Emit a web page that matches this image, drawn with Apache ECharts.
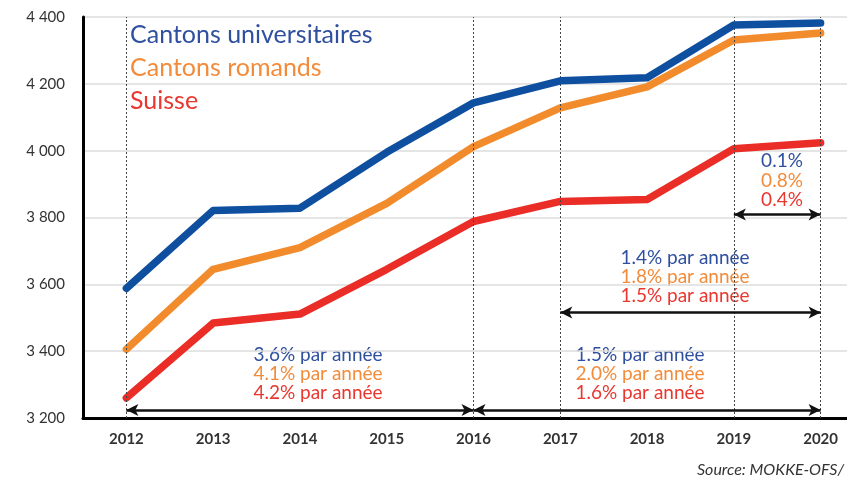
<!DOCTYPE html>
<html>
<head>
<meta charset="utf-8">
<script src="https://cdn.jsdelivr.net/npm/echarts@6/dist/echarts.min.js"></script>
<style>
  html, body { margin: 0; padding: 0; background: #fff; overflow: hidden; }
  #main { width: 847px; height: 482px; }
</style>
</head>
<body>
<div id="main"></div>
<script>
// données
var years = ['2012', '2013', '2014', '2015', '2016', '2017', '2018', '2019', '2020'];
var universitaires = [3588, 3821, 3828, 3995, 4143, 4209, 4218, 4376, 4382];
var romands = [3406, 3645, 3710, 3842, 4012, 4128, 4191, 4331, 4352];
var suisse = [3260, 3484, 3511, 3645, 3788, 3848, 3854, 4006, 4024];
var seriesNames = ['Cantons universitaires', 'Cantons romands', 'Suisse'];
var dividerYears = ['2012', '2016', '2017', '2019', '2020'];
// flèches: [début, fin, niveau]
var arrows = [['2012', '2016', 3224], ['2016', '2020', 3224], ['2017', '2020', 3516], ['2019', '2020', 3809]];
var rates2012 = ['3.6% par année', '4.1% par année', '4.2% par année'];
var rates2016 = ['1.5% par année', '2.0% par année', '1.6% par année'];
var rates2017 = ['1.4% par année', '1.8% par année', '1.5% par année'];
var rates2019 = ['0.1%', '0.8%', '0.4%'];

var lineColors = ['#0e4fa0', '#f28b2c', '#ea2d26'];
var textColors = ['#2f4f9f', '#f28b3a', '#e8372f'];
var font = 'Lato, "Open Sans", sans-serif';

var myChart = echarts.init(document.getElementById('main'));

function rateGroup(texts, cx, y0, step) {
    var out = [];
    for (var i = 0; i < texts.length; i++) {
        out.push({
            type: 'text',
            x: cx,
            y: y0 + i * step,
            style: {
                text: texts[i],
                fill: textColors[i],
                font: '19px ' + font,
                align: 'center',
                verticalAlign: 'middle'
            }
        });
    }
    return out;
}

var graphics = [];
for (var i = 0; i < seriesNames.length; i++) {
    graphics.push({
        type: 'text',
        x: 130,
        y: 35 + i * 33,
        style: {
            text: seriesNames[i],
            fill: textColors[i],
            font: '25px ' + font,
            verticalAlign: 'middle'
        }
    });
}
graphics = graphics
    .concat(rateGroup(rates2012, 318, 355, 19))
    .concat(rateGroup(rates2016, 640, 355, 19))
    .concat(rateGroup(rates2017, 685, 258, 19))
    .concat(rateGroup(rates2019, 782, 161, 19.5));
graphics.push({
    type: 'text',
    x: 697,
    y: 470,
    style: {
        text: 'Source: MOKKE-OFS/',
        fill: '#333',
        font: 'italic 16px ' + font,
        verticalAlign: 'middle'
    }
});

var seriesList = [];
var data = [universitaires, romands, suisse];
for (var s = 0; s < data.length; s++) {
    seriesList.push({
        name: seriesNames[s],
        type: 'line',
        data: data[s],
        symbol: 'none',
        z: 5 - s,
        lineStyle: { color: lineColors[s], width: 7.5, cap: 'round', join: 'round' }
    });
}
// lignes pointillées verticales
seriesList.push({
    type: 'line',
    data: [],
    markLine: {
        silent: true,
        symbol: 'none',
        label: { show: false },
        lineStyle: { color: '#444', type: [2, 2], width: 1 },
        data: dividerYears.map(function (y) { return { xAxis: y }; })
    }
});
// flèches doubles
seriesList.push({
    type: 'line',
    data: [],
    z: 6,
    markLine: {
        silent: true,
        symbol: ['arrow', 'arrow'],
        symbolSize: [9, 12],
        label: { show: false },
        lineStyle: { color: '#111', type: 'solid', width: 2.5 },
        data: arrows.map(function (a) {
            return [{ coord: [a[0], a[2]] }, { coord: [a[1], a[2]] }];
        })
    }
});

var option = {
    animation: false,
    backgroundColor: '#fff',
    grid: { left: 83, width: 781, top: 17, bottom: 64, outerBoundsMode: 'none', containLabel: false },
    xAxis: {
        type: 'category',
        data: years,
        boundaryGap: true,
        axisLine: { lineStyle: { color: '#000', width: 3 } },
        axisTick: { show: false },
        axisLabel: { color: '#333', fontSize: 15, fontWeight: 'bold', fontFamily: font, margin: 14 },
        splitLine: { show: false }
    },
    yAxis: {
        type: 'value',
        min: 3200,
        max: 4400,
        interval: 200,
        axisLine: { show: true, lineStyle: { color: '#000', width: 3 } },
        axisTick: { show: false },
        axisLabel: {
            color: '#333',
            fontSize: 15,
            fontFamily: font,
            margin: 18,
            formatter: function (v) { return String(v).replace(/\B(?=(\d{3})+(?!\d))/g, ' '); }
        },
        splitLine: { lineStyle: { color: '#dcdcdc', width: 1.5 } }
    },
    graphic: graphics,
    series: seriesList
};
myChart.setOption(option);
</script>
</body>
</html>
